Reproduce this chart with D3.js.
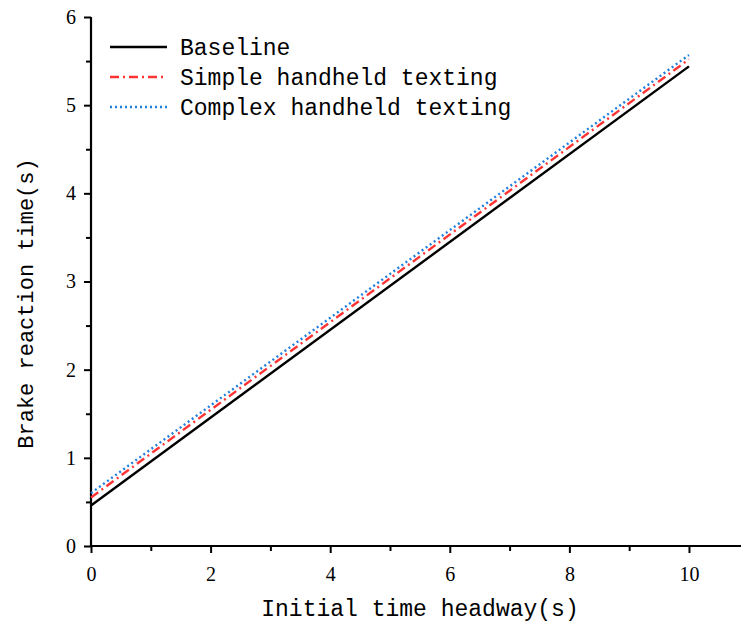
<!DOCTYPE html>
<html><head><meta charset="utf-8">
<script src="https://cdn.jsdelivr.net/npm/d3@7"></script>
<style>body{margin:0;background:#fff}svg{display:block}</style>
</head><body>
<svg id="c" width="742" height="625"></svg>
<script>
const seriesNames = ["Baseline", "Simple handheld texting", "Complex handheld texting"];
const xValues = [0, 10];
const baselineValues = [0.46, 5.44];
const simpleValues = [0.55, 5.52];
const complexValues = [0.60, 5.57];
const xTicks = [0, 2, 4, 6, 8, 10];
const yTicks = [0, 1, 2, 3, 4, 5, 6];
const xTitle = "Initial time headway(s)";
const yTitle = "Brake reaction time(s)";

const font = "'Liberation Mono', 'DejaVu Sans Mono', monospace";
const numFont = "'Liberation Serif', 'DejaVu Serif', serif";
const svg = d3.select("#c");
const L = 91, R = 741, T = 17, B = 546;
const x = d3.scaleLinear().domain([0, 10.87]).range([L, R]);
const y = d3.scaleLinear().domain([0, 6]).range([B, T]);

const styles = [
  {color: "#000", dash: null, width: 2.4},
  {color: "#ff3333", dash: "9,4,2,4", width: 2.4},
  {color: "#1f7fe0", dash: "2,3", width: 2.4}
];
const allSeries = [baselineValues, simpleValues, complexValues];

const xAxis = d3.axisBottom(x).tickValues(xTicks).tickSize(7).tickPadding(14).tickFormat(d3.format("d"));
const xMinor = d3.axisBottom(x).tickValues([1,3,5,7,9]).tickSize(5).tickFormat("");
const yAxis = d3.axisLeft(y).tickValues(yTicks).tickSize(7).tickPadding(8).tickFormat(d3.format("d"));
const yMinor = d3.axisLeft(y).tickValues([0.5,1.5,2.5,3.5,4.5,5.5]).tickSize(5).tickFormat("");

function styleAxis(g){
  g.select(".domain").attr("stroke","#000").attr("stroke-width",2.2);
  g.selectAll(".tick line").attr("stroke","#000").attr("stroke-width",2);
  g.selectAll(".tick text").attr("font-family",numFont).attr("font-size",20).attr("fill","#000");
}
const gx = svg.append("g").attr("transform",`translate(0,${B})`).call(xAxis).call(styleAxis);
svg.append("g").attr("transform",`translate(0,${B})`).call(xMinor).call(styleAxis).select(".domain").remove();
const gy = svg.append("g").attr("transform",`translate(${L},0)`).call(yAxis).call(styleAxis);
svg.append("g").attr("transform",`translate(${L},0)`).call(yMinor).call(styleAxis).select(".domain").remove();
gy.select(".domain").attr("d", `M0,${T}V${B}`);
gx.select(".domain").attr("d", `M${L-1},0H${R}`);

const line = d3.line().x((d,i)=>x(xValues[i])).y(d=>y(d));
allSeries.forEach((s,i)=>{
  svg.append("path").datum(s).attr("d",line).attr("fill","none")
    .attr("stroke",styles[i].color).attr("stroke-width",styles[i].width)
    .attr("stroke-dasharray",styles[i].dash);
});

seriesNames.forEach((n,i)=>{
  const yy = 47 + i*30;
  svg.append("line").attr("x1",110).attr("x2",167).attr("y1",yy).attr("y2",yy)
    .attr("stroke",styles[i].color).attr("stroke-width",styles[i].width)
    .attr("stroke-dasharray",styles[i].dash);
  svg.append("text").attr("x",180).attr("y",yy+8).text(n)
    .attr("font-family",font).attr("font-size",23).attr("fill","#000");
});

svg.append("text").attr("x",420).attr("y",616).attr("text-anchor","middle")
  .attr("font-family",font).attr("font-size",23).text(xTitle);
svg.append("text").attr("transform",`translate(33,${(T+B)/2+22}) rotate(-90)`).attr("text-anchor","middle")
  .attr("font-family",font).attr("font-size",22).text(yTitle);
</script>
</body></html>
